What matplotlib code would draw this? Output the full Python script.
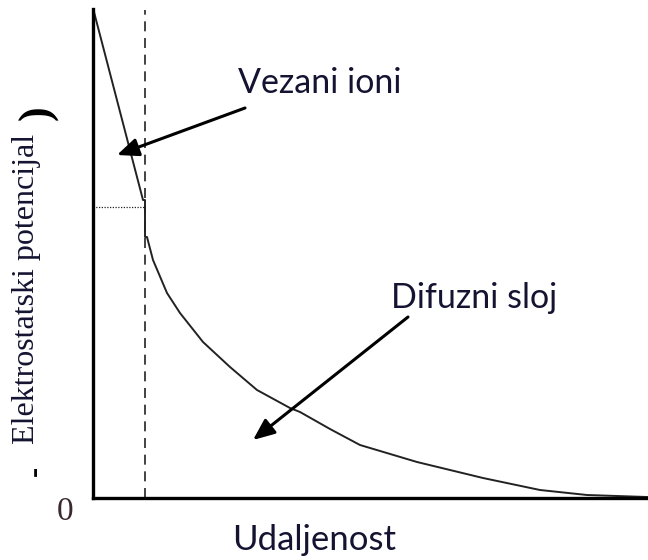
import matplotlib
matplotlib.use("Agg")
import matplotlib.pyplot as plt

# ---- data (distance, potential) ----
distance = [0.02, 1.00, 1.04, 1.04, 1.08, 1.20, 1.48, 1.74, 2.20, 2.74, 3.28,
            3.94, 4.14, 4.74, 5.34, 6.48, 7.80, 8.94, 9.88, 11.08]
potential = [9.72, 5.96, 5.96, 5.22, 5.22, 4.76, 4.10, 3.70, 3.12, 2.62, 2.16,
             1.80, 1.72, 1.38, 1.06, 0.72, 0.40, 0.16, 0.06, 0.02]
stern_x = 1.04          # position of bound-ion layer boundary
stern_y = 5.82          # potential level at the boundary (dotted line)
x_max = 11.1
y_max = 9.78

label_bound = "Vezani ioni"
label_diffuse = "Difuzni sloj"
xlabel = "Udaljenost"
ylabel = "Elektrostatski potencijal"
ylabel_sign = "-"
ylabel_paren = ")"
zero_label = "0"

text_color = "#141432"

fig = plt.figure(figsize=(6.48, 5.60), dpi=100)
ax = fig.add_axes([93/648, 62/560, 555/648, 489/560])
ax.set_xlim(0, x_max)
ax.set_ylim(0, y_max)

ax.plot(distance, potential, color="#222222", lw=1.4, solid_joinstyle="round")
ax.plot([stern_x, stern_x], [0, y_max - 0.02], color="#222222", lw=1.2,
        dashes=(6.0, 4.0))
ax.plot([0, stern_x], [stern_y, stern_y], color="#222222", lw=0.9,
        linestyle=(0, (1.0, 1.2)))

for s in ["top", "right"]:
    ax.spines[s].set_visible(False)
for s in ["left", "bottom"]:
    ax.spines[s].set_linewidth(2.4)
    ax.spines[s].set_color("black")
ax.set_xticks([])
ax.set_yticks([])

arrow_kw = dict(arrowstyle="-|>,head_length=1.3,head_width=0.55", color="black",
                lw=2.2, shrinkA=0, shrinkB=0)
ax.annotate("", xy=(0.48, 6.86), xytext=(3.04, 7.80), arrowprops=arrow_kw)
ax.annotate("", xy=(3.20, 1.16), xytext=(6.30, 3.62), arrowprops=arrow_kw)

ax.text(4.54, 8.30, label_bound, fontsize=24.5, family="Lato", color=text_color,
        ha="center", va="center")
ax.text(7.62, 4.00, label_diffuse, fontsize=24.5, family="Lato", color=text_color,
        ha="center", va="center")

fig.text(314/648, 1 - 540/560, xlabel, fontsize=25, family="Lato",
         color=text_color, ha="center", va="center")
fig.text(65/648, 1 - 512/560, zero_label, fontsize=24, family="Liberation Serif",
         color="#3a2a30", ha="center", va="center")
fig.text(27/648, 1 - 289/560, ylabel, fontsize=23, family="Liberation Serif",
         color=text_color, ha="center", va="center", rotation=90)
fig.text(35/648, 1 - 471/560, ylabel_sign, fontsize=22, family="Liberation Serif",
         color="black", fontweight="bold", ha="center", va="center", rotation=90)
fig.text(38/648, 1 - 113/560, ylabel_paren, fontsize=32, family="Liberation Serif",
         color="black", fontweight="bold", ha="center", va="center", rotation=90)

fig.savefig("out.png", dpi=100)
